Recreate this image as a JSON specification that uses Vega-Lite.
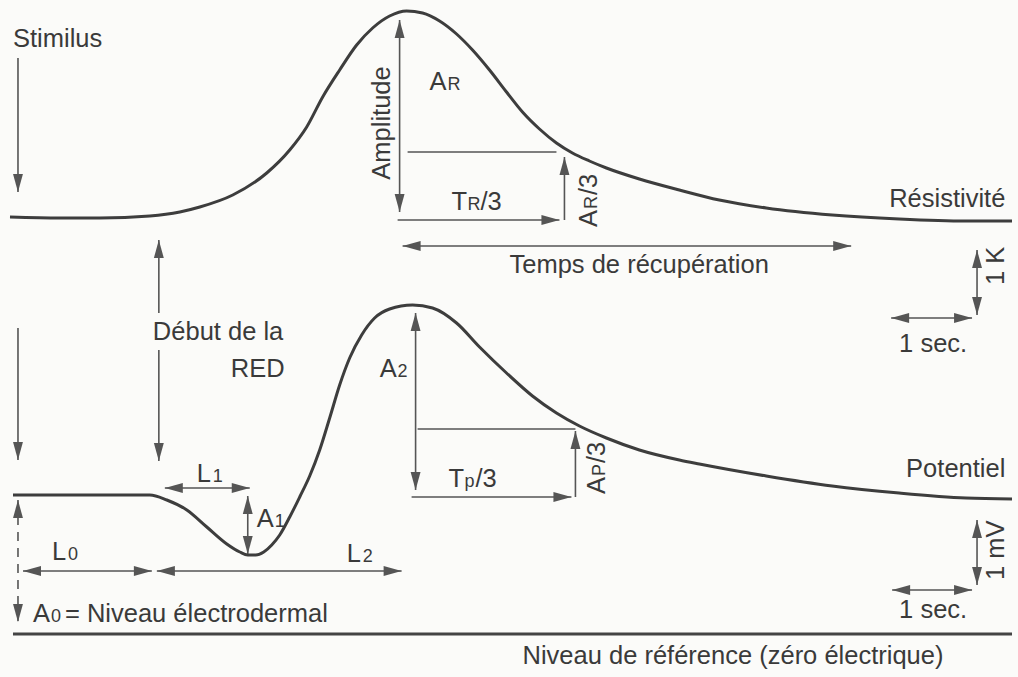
{
  "$schema": "https://vega.github.io/schema/vega-lite/v6.json",
  "width": 1018,
  "height": 677,
  "autosize": {"type": "fit", "contains": "padding"},
  "padding": 0,
  "background": "#fbfbf9",
  "config": {"view": {"stroke": null}, "axis": {"disable": true}},
  "datasets": {
    "curves": [
      {"s": "Résistivité", "x": 10, "y": 217}, {"s": "Résistivité", "x": 60, "y": 218}, {"s": "Résistivité", "x": 100, "y": 218}, {"s": "Résistivité", "x": 150, "y": 216}, {"s": "Résistivité", "x": 180, "y": 212}, {"s": "Résistivité", "x": 200, "y": 207}, {"s": "Résistivité", "x": 233, "y": 195}, {"s": "Résistivité", "x": 267, "y": 173}, {"s": "Résistivité", "x": 290, "y": 150}, {"s": "Résistivité", "x": 307, "y": 127}, {"s": "Résistivité", "x": 323, "y": 97}, {"s": "Résistivité", "x": 340, "y": 70}, {"s": "Résistivité", "x": 357, "y": 45}, {"s": "Résistivité", "x": 373, "y": 28}, {"s": "Résistivité", "x": 390, "y": 16}, {"s": "Résistivité", "x": 407, "y": 11}, {"s": "Résistivité", "x": 423, "y": 13}, {"s": "Résistivité", "x": 440, "y": 21}, {"s": "Résistivité", "x": 457, "y": 34}, {"s": "Résistivité", "x": 473, "y": 50}, {"s": "Résistivité", "x": 490, "y": 70}, {"s": "Résistivité", "x": 507, "y": 92}, {"s": "Résistivité", "x": 523, "y": 112}, {"s": "Résistivité", "x": 540, "y": 129}, {"s": "Résistivité", "x": 557, "y": 143}, {"s": "Résistivité", "x": 573, "y": 153}, {"s": "Résistivité", "x": 590, "y": 161}, {"s": "Résistivité", "x": 607, "y": 168}, {"s": "Résistivité", "x": 640, "y": 179}, {"s": "Résistivité", "x": 680, "y": 190}, {"s": "Résistivité", "x": 720, "y": 200}, {"s": "Résistivité", "x": 767, "y": 208}, {"s": "Résistivité", "x": 833, "y": 215}, {"s": "Résistivité", "x": 900, "y": 219}, {"s": "Résistivité", "x": 967, "y": 221}, {"s": "Résistivité", "x": 1013, "y": 221},
      {"s": "Potentiel", "x": 13, "y": 495}, {"s": "Potentiel", "x": 100, "y": 495}, {"s": "Potentiel", "x": 150, "y": 495}, {"s": "Potentiel", "x": 167, "y": 500}, {"s": "Potentiel", "x": 187, "y": 510}, {"s": "Potentiel", "x": 207, "y": 527}, {"s": "Potentiel", "x": 227, "y": 544}, {"s": "Potentiel", "x": 240, "y": 552}, {"s": "Potentiel", "x": 248, "y": 555}, {"s": "Potentiel", "x": 256, "y": 555}, {"s": "Potentiel", "x": 264, "y": 552}, {"s": "Potentiel", "x": 272, "y": 545}, {"s": "Potentiel", "x": 280, "y": 535}, {"s": "Potentiel", "x": 290, "y": 517}, {"s": "Potentiel", "x": 300, "y": 497}, {"s": "Potentiel", "x": 310, "y": 476}, {"s": "Potentiel", "x": 320, "y": 450}, {"s": "Potentiel", "x": 330, "y": 418}, {"s": "Potentiel", "x": 340, "y": 385}, {"s": "Potentiel", "x": 350, "y": 358}, {"s": "Potentiel", "x": 362, "y": 335}, {"s": "Potentiel", "x": 375, "y": 318}, {"s": "Potentiel", "x": 390, "y": 309}, {"s": "Potentiel", "x": 413, "y": 305}, {"s": "Potentiel", "x": 433, "y": 308}, {"s": "Potentiel", "x": 457, "y": 323}, {"s": "Potentiel", "x": 480, "y": 347}, {"s": "Potentiel", "x": 507, "y": 373}, {"s": "Potentiel", "x": 533, "y": 396}, {"s": "Potentiel", "x": 557, "y": 413}, {"s": "Potentiel", "x": 580, "y": 426}, {"s": "Potentiel", "x": 607, "y": 438}, {"s": "Potentiel", "x": 640, "y": 450}, {"s": "Potentiel", "x": 680, "y": 460}, {"s": "Potentiel", "x": 700, "y": 464}, {"s": "Potentiel", "x": 767, "y": 476}, {"s": "Potentiel", "x": 833, "y": 486}, {"s": "Potentiel", "x": 900, "y": 493}, {"s": "Potentiel", "x": 967, "y": 498}, {"s": "Potentiel", "x": 1013, "y": 499}
    ],
    "segments": [
      {"k": "arrow", "x": 18, "y": 58, "x2": 18, "y2": 192},
      {"k": "arrow", "x": 400, "y": 20, "x2": 400, "y2": 212},
      {"k": "arrow", "x": 398, "y": 220, "x2": 560, "y2": 220},
      {"k": "arrow", "x": 565, "y": 220, "x2": 565, "y2": 157},
      {"k": "arrow", "x": 408, "y": 152, "x2": 557, "y2": 152},
      {"k": "arrow", "x": 403, "y": 246, "x2": 852, "y2": 246},
      {"k": "arrow", "x": 978, "y": 250, "x2": 978, "y2": 315},
      {"k": "arrow", "x": 892, "y": 318, "x2": 973, "y2": 318},
      {"k": "arrow", "x": 159, "y": 240, "x2": 159, "y2": 313},
      {"k": "arrow", "x": 159, "y": 350, "x2": 159, "y2": 461},
      {"k": "arrow", "x": 18, "y": 328, "x2": 18, "y2": 460},
      {"k": "arrow", "x": 416, "y": 313, "x2": 416, "y2": 490},
      {"k": "arrow", "x": 418, "y": 429, "x2": 576, "y2": 429},
      {"k": "arrow", "x": 576, "y": 497, "x2": 576, "y2": 431},
      {"k": "arrow", "x": 412, "y": 497, "x2": 572, "y2": 497},
      {"k": "arrow", "x": 165, "y": 488, "x2": 250, "y2": 488},
      {"k": "arrow", "x": 248, "y": 496, "x2": 248, "y2": 554},
      {"k": "arrow", "x": 23, "y": 571, "x2": 152, "y2": 571},
      {"k": "arrow", "x": 157, "y": 571, "x2": 402, "y2": 571},
      {"k": "arrow", "x": 978, "y": 520, "x2": 978, "y2": 585},
      {"k": "arrow", "x": 893, "y": 590, "x2": 973, "y2": 590},
      {"k": "dashed", "x": 18, "y": 500, "x2": 18, "y2": 622},
      {"k": "base", "x": 13, "y": 634, "x2": 1013, "y2": 634}
    ],
    "heads": [
      {"d": "down", "x": 18, "y": 192},
      {"d": "up", "x": 400, "y": 20}, {"d": "down", "x": 400, "y": 212},
      {"d": "right", "x": 560, "y": 220},
      {"d": "up", "x": 565, "y": 157},
      {"d": "left", "x": 403, "y": 246}, {"d": "right", "x": 852, "y": 246},
      {"d": "up", "x": 978, "y": 250}, {"d": "down", "x": 978, "y": 315},
      {"d": "left", "x": 892, "y": 318}, {"d": "right", "x": 973, "y": 318},
      {"d": "up", "x": 159, "y": 240}, {"d": "down", "x": 159, "y": 461},
      {"d": "down", "x": 18, "y": 460},
      {"d": "up", "x": 416, "y": 313}, {"d": "down", "x": 416, "y": 490},
      {"d": "up", "x": 576, "y": 431},
      {"d": "right", "x": 572, "y": 497},
      {"d": "left", "x": 165, "y": 488}, {"d": "right", "x": 250, "y": 488},
      {"d": "up", "x": 248, "y": 496}, {"d": "down", "x": 248, "y": 554},
      {"d": "left", "x": 23, "y": 571}, {"d": "right", "x": 152, "y": 571},
      {"d": "left", "x": 157, "y": 571}, {"d": "right", "x": 402, "y": 571},
      {"d": "up", "x": 18, "y": 500}, {"d": "down", "x": 18, "y": 622},
      {"d": "up", "x": 978, "y": 520}, {"d": "down", "x": 978, "y": 585},
      {"d": "left", "x": 893, "y": 590}, {"d": "right", "x": 973, "y": 590}
    ],
    "labels": [
      {"k": "main", "t": "Stimilus", "x": 13, "y": 47},
      {"k": "main", "t": "A", "x": 430, "y": 90},
      {"k": "sub", "t": "R", "x": 448, "y": 90},
      {"k": "main", "t": "T", "x": 452, "y": 210},
      {"k": "sub", "t": "R", "x": 468, "y": 210},
      {"k": "main", "t": "/3", "x": 481, "y": 210},
      {"k": "main", "t": "Résistivité", "x": 890, "y": 207},
      {"k": "main", "t": "Temps de récupération", "x": 510, "y": 273},
      {"k": "main", "t": "1 sec.", "x": 900, "y": 352},
      {"k": "main", "t": "Début de la", "x": 153, "y": 340},
      {"k": "main", "t": "RED", "x": 231, "y": 377},
      {"k": "main", "t": "A", "x": 380, "y": 377},
      {"k": "sub", "t": "2", "x": 398, "y": 377},
      {"k": "main", "t": "T", "x": 449, "y": 487},
      {"k": "sub", "t": "p", "x": 465, "y": 487},
      {"k": "main", "t": "/3", "x": 476, "y": 487},
      {"k": "main", "t": "Potentiel", "x": 907, "y": 477},
      {"k": "main", "t": "L", "x": 197, "y": 482},
      {"k": "sub", "t": "1", "x": 213, "y": 482},
      {"k": "main", "t": "A", "x": 257, "y": 527},
      {"k": "sub", "t": "1", "x": 275, "y": 527},
      {"k": "main", "t": "L", "x": 52, "y": 560},
      {"k": "sub", "t": "0", "x": 68, "y": 560},
      {"k": "main", "t": "L", "x": 347, "y": 562},
      {"k": "sub", "t": "2", "x": 363, "y": 562},
      {"k": "main", "t": "A", "x": 33, "y": 622},
      {"k": "sub", "t": "0", "x": 51, "y": 622},
      {"k": "main", "t": "= Niveau électrodermal", "x": 65, "y": 622},
      {"k": "main", "t": "1 sec.", "x": 900, "y": 618},
      {"k": "main", "t": "Niveau de référence (zéro électrique)", "x": 523, "y": 664},
      {"k": "rotmain", "t": "A", "x": 598, "y": 227},
      {"k": "rotsub", "t": "R", "x": 598, "y": 209},
      {"k": "rotmain", "t": "/3", "x": 598, "y": 195},
      {"k": "rotmain", "t": "A", "x": 606, "y": 494},
      {"k": "rotsub", "t": "P", "x": 606, "y": 476},
      {"k": "rotmain", "t": "/3", "x": 606, "y": 463},
      {"k": "rotmain", "t": "1 K", "x": 1005, "y": 285},
      {"k": "rotmain", "t": "1 mV", "x": 1005, "y": 580},
      {"k": "rotcenter", "t": "Amplitude", "x": 390, "y": 123}
    ]
  },
  "layer": [
    {
      "data": {"name": "segments"},
      "transform": [{"filter": "datum.k === 'arrow'"}],
      "mark": {"type": "rule", "color": "#555555", "strokeWidth": 1.6},
      "encoding": {
        "x": {"field": "x", "type": "quantitative", "scale": {"domain": [0, 1018], "nice": false, "zero": false}},
        "y": {"field": "y", "type": "quantitative", "scale": {"domain": [0, 677], "nice": false, "zero": false, "reverse": true}},
        "x2": {"field": "x2"},
        "y2": {"field": "y2"}
      }
    },
    {
      "data": {"name": "segments"},
      "transform": [{"filter": "datum.k === 'dashed'"}],
      "mark": {"type": "rule", "color": "#555555", "strokeWidth": 1.6, "strokeDash": [9, 7]},
      "encoding": {
        "x": {"field": "x", "type": "quantitative"},
        "y": {"field": "y", "type": "quantitative"},
        "x2": {"field": "x2"},
        "y2": {"field": "y2"}
      }
    },
    {
      "data": {"name": "segments"},
      "transform": [{"filter": "datum.k === 'base'"}],
      "mark": {"type": "rule", "color": "#444444", "strokeWidth": 3.2},
      "encoding": {
        "x": {"field": "x", "type": "quantitative"},
        "y": {"field": "y", "type": "quantitative"},
        "x2": {"field": "x2"},
        "y2": {"field": "y2"}
      }
    },
    {
      "data": {"name": "curves"},
      "mark": {"type": "line", "color": "#3d3d3d", "strokeWidth": 3, "interpolate": "monotone"},
      "encoding": {
        "x": {"field": "x", "type": "quantitative"},
        "y": {"field": "y", "type": "quantitative"},
        "detail": {"field": "s", "type": "nominal"}
      }
    },
    {
      "data": {"name": "heads"},
      "mark": {"type": "point", "filled": true, "color": "#555555", "opacity": 1, "size": 81, "strokeWidth": 0},
      "encoding": {
        "x": {"field": "x", "type": "quantitative"},
        "y": {"field": "y", "type": "quantitative"},
        "shape": {
          "field": "d", "type": "nominal", "legend": null,
          "scale": {
            "domain": ["up", "down", "left", "right"],
            "range": ["M0,0L-1.1,4L1.1,4Z", "M0,0L-1.1,-4L1.1,-4Z", "M0,0L4,-1.1L4,1.1Z", "M0,0L-4,-1.1L-4,1.1Z"]
          }
        }
      }
    },
    {
      "data": {"name": "labels"},
      "transform": [{"filter": "datum.k === 'main'"}],
      "mark": {"type": "text", "align": "left", "baseline": "alphabetic", "font": "Liberation Sans", "fontSize": 25.5, "color": "#3a3a3a"},
      "encoding": {
        "x": {"field": "x", "type": "quantitative"},
        "y": {"field": "y", "type": "quantitative"},
        "text": {"field": "t"}
      }
    },
    {
      "data": {"name": "labels"},
      "transform": [{"filter": "datum.k === 'sub'"}],
      "mark": {"type": "text", "align": "left", "baseline": "alphabetic", "font": "Liberation Sans", "fontSize": 18, "color": "#3a3a3a"},
      "encoding": {
        "x": {"field": "x", "type": "quantitative"},
        "y": {"field": "y", "type": "quantitative"},
        "text": {"field": "t"}
      }
    },
    {
      "data": {"name": "labels"},
      "transform": [{"filter": "datum.k === 'rotmain'"}],
      "mark": {"type": "text", "align": "left", "baseline": "alphabetic", "angle": 270, "font": "Liberation Sans", "fontSize": 25.5, "color": "#3a3a3a"},
      "encoding": {
        "x": {"field": "x", "type": "quantitative"},
        "y": {"field": "y", "type": "quantitative"},
        "text": {"field": "t"}
      }
    },
    {
      "data": {"name": "labels"},
      "transform": [{"filter": "datum.k === 'rotsub'"}],
      "mark": {"type": "text", "align": "left", "baseline": "alphabetic", "angle": 270, "font": "Liberation Sans", "fontSize": 18, "color": "#3a3a3a"},
      "encoding": {
        "x": {"field": "x", "type": "quantitative"},
        "y": {"field": "y", "type": "quantitative"},
        "text": {"field": "t"}
      }
    },
    {
      "data": {"name": "labels"},
      "transform": [{"filter": "datum.k === 'rotcenter'"}],
      "mark": {"type": "text", "align": "center", "baseline": "alphabetic", "angle": 270, "font": "Liberation Sans", "fontSize": 25.5, "color": "#3a3a3a"},
      "encoding": {
        "x": {"field": "x", "type": "quantitative"},
        "y": {"field": "y", "type": "quantitative"},
        "text": {"field": "t"}
      }
    }
  ]
}
